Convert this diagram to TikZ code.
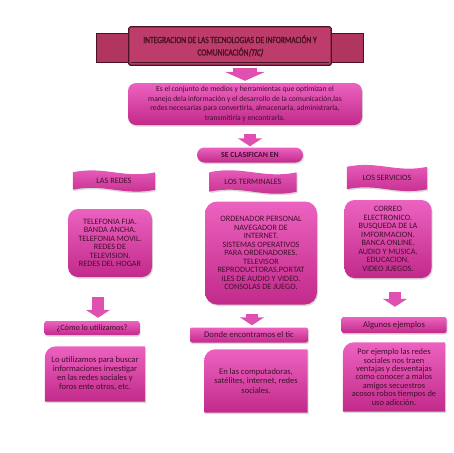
\documentclass[tikz,border=0pt]{standalone}
\usepackage{fontspec}
\setmainfont{Carlito}
\newfontfamily\titlefont[FakeStretch=0.8, FakeBold=2]{Carlito}
\usetikzlibrary{positioning,arrows.meta,calc,shadows,backgrounds}

\definecolor{pinktop}{HTML}{EC62C0}
\definecolor{pinkbot}{HTML}{C22A8A}
\definecolor{arrowpink}{HTML}{E050B0}
\definecolor{ribbon}{HTML}{BE3C6C}
\definecolor{ribbondark}{HTML}{B0355F}
\definecolor{ribbonline}{HTML}{4B1322}
\definecolor{txtcol}{HTML}{40102C}

\tikzset{
  txt/.style={font=\fontsize{8.2}{8.5}\selectfont, text=txtcol, align=center, inner sep=0pt},
  pinkfill/.style={top color=pinktop, bottom color=pinkbot, drop shadow={opacity=.3, shadow xshift=1pt, shadow yshift=-1.5pt}},
  pinkbox/.style={txt, pinkfill, rounded corners=#1},
  pinkbox/.default=10pt,
  fatarrow/.style={draw=arrowpink, line width=12pt, -{Triangle[length=8pt,width=24pt]}},
}

% box with only the top left corner rounded
\newcommand\roundtl[1]{\shade[pinkfill] ([yshift=-11pt]#1.north west) arc[start angle=180, end angle=90, radius=11pt] -- (#1.north east) -- (#1.south east) -- (#1.south west) -- cycle;}

\begin{document}
\begin{tikzpicture}[x=1pt, y=-1pt]
    \useasboundingbox (0,0) rectangle (453,453);

    % Title ribbon
    \node[txt, font=\titlefont\fontsize{9.4}{12.5}\selectfont, text=ribbonline, minimum width=202pt, minimum height=38pt] (title) at (230,46)
        {INTEGRACION DE LAS TECNOLOGIAS DE INFORMACIÓN Y\\ COMUNICACIÓN{\addfontfeature{FakeSlant=0.25}(TIC)}};
    \begin{scope}[on background layer]
        \fill[ribbondark, draw=ribbonline, line width=1pt] ([shift={(-32,7)}]title.north west) -- ([shift={(8,7)}]title.north west)
            -- ([shift={(8,-3)}]title.south west) -- ([shift={(-32,-3)}]title.south west) -- cycle;
        \fill[ribbondark, draw=ribbonline, line width=1pt] ([shift={(32,7)}]title.north east) -- ([shift={(-8,7)}]title.north east)
            -- ([shift={(-8,-3)}]title.south east) -- ([shift={(32,-3)}]title.south east) -- cycle;
        \fill[ribbon, draw=ribbonline, line width=1.2pt, rounded corners=1.5pt] (title.north west) rectangle (title.south east);
        \draw[ribbonline, line width=.8pt] ([shift={(2,-3)}]title.south west) -- ([shift={(-2,-3)}]title.south east);
    \end{scope}

    % Definition
    \node[pinkbox=8pt, font=\fontsize{7.6}{9.8}\selectfont, minimum width=234pt, minimum height=42pt] (intro) at (245,104)
        {Es el conjunto de medios  y herramientas que optimizan el\\ manejo dela información  y el desarrollo de la comunicación,las\\
         redes necesarias para convertirla, almacenarla, administrarla,\\ transmitirla y encontrarla.};
    \node[pinkbox=7.5pt, font=\bfseries\fontsize{7.8}{8}\selectfont, minimum width=106pt, minimum height=15pt] (clasif) at (250,155) {SE CLASIFICAN EN};

    % Three categories
    \node[txt, minimum width=82pt, minimum height=17pt] (redes) at (114,181) {LAS REDES};
    \node[txt, minimum width=87pt, minimum height=19pt] (terminales) at (253,182) {LOS TERMINALES};
    \node[txt, minimum width=80pt, minimum height=22pt] (servicios) at (387,178) {LOS SERVICIOS};
    \begin{scope}[on background layer]
        \foreach \n in {redes,terminales,servicios}
            \shade[pinkfill] (\n.north west) to[out=12,in=192] (\n.north east) -- (\n.south east) to[out=192,in=12] (\n.south west) -- cycle;
    \end{scope}

    \node[pinkbox=10pt, minimum width=84pt, minimum height=68pt] (redeslist) at (110,243)
        {TELEFONIA FIJA.\\ BANDA ANCHA.\\ TELEFONIA MOVIL.\\ REDES DE\\ TELEVISION.\\ REDES DEL HOGAR};
    \node[pinkbox=12pt, minimum width=112pt, minimum height=103pt] (termlist) at (261,253)
        {ORDENADOR PERSONAL\\ NAVEGADOR DE\\ INTERNET.\\ SISTEMAS OPERATIVOS\\ PARA ORDENADORES.\\ TELEVISOR\\
         REPRODUCTORAS.PORTAT\\ ILES DE AUDIO  Y VIDEO.\\ CONSOLAS DE JUEGO.};
    \node[pinkbox=10pt, minimum width=87pt, minimum height=78pt] (servlist) at (388,239)
        {CORREO\\ ELECTRONICO.\\ BUSQUEDA DE LA\\ IMFORMACION.\\ BANCA ONLINE.\\ AUDIO Y MUSICA.\\ EDUCACION.\\ VIDEO JUEGOS.};

    % Questions
    \node[pinkbox=2pt, minimum width=95pt, minimum height=14pt] (como) at (92,328) {¿Cómo lo utilizamos?};
    \node[pinkbox=2pt, font=\fontsize{8.6}{8.6}\selectfont, minimum width=118pt, minimum height=15pt] (donde) at (249,335) {Donde encontramos el tic};
    \node[pinkbox=2pt, font=\fontsize{8.6}{8.6}\selectfont, minimum width=105pt, minimum height=16pt] (algunos) at (394,325) {Algunos ejemplos};

    % Answers
    \node[txt, font=\fontsize{8.5}{9}\selectfont, minimum width=100pt, minimum height=55pt] (usos) at (95,374)
        {Lo utilizamos para buscar\\ informaciones investigar\\ en las redes sociales  y\\ foros ente otros, etc.};
    \node[txt, font=\fontsize{8.5}{9.6}\selectfont, minimum width=103pt, minimum height=63pt] (lugares) at (256,381)
        {En las computadoras,\\ satélites, internet,  redes\\ sociales.};
    \node[txt, font=\fontsize{8.4}{8.4}\selectfont, minimum width=102pt, minimum height=69pt] (ejemplos) at (394,377)
        {Por ejemplo las redes\\ sociales nos traen\\ ventajas y desventajas\\ como conocer a malos\\ amigos  secuestros\\ acosos robos  tiempos de\\ uso adicción.};
    \begin{scope}[on background layer]
        \roundtl{usos}
        \roundtl{lugares}
        \roundtl{ejemplos}
    \end{scope}

    % Block arrows
    \draw[fatarrow, line width=24pt, -{Triangle[length=9pt,width=40pt]}] ($(title.south -| intro.north)+(0,3)$) -- ($(intro.north)+(0,-2)$);
    \draw[fatarrow] ($(intro.south -| clasif.north)+(0,9)$) -- ($(clasif.north)+(0,-1)$);
    \draw[fatarrow] ($(redeslist.south)+(-12,20)$) -- ($(como.north)+(6,-3)$);
    \draw[fatarrow] ($(termlist.south)+(-9,9)$) -- ($(donde.north)+(3,-2)$);
    \draw[fatarrow] ($(servlist.south)+(7,14)$) -- ($(algunos.north)+(1,-10)$);
\end{tikzpicture}
\end{document}
